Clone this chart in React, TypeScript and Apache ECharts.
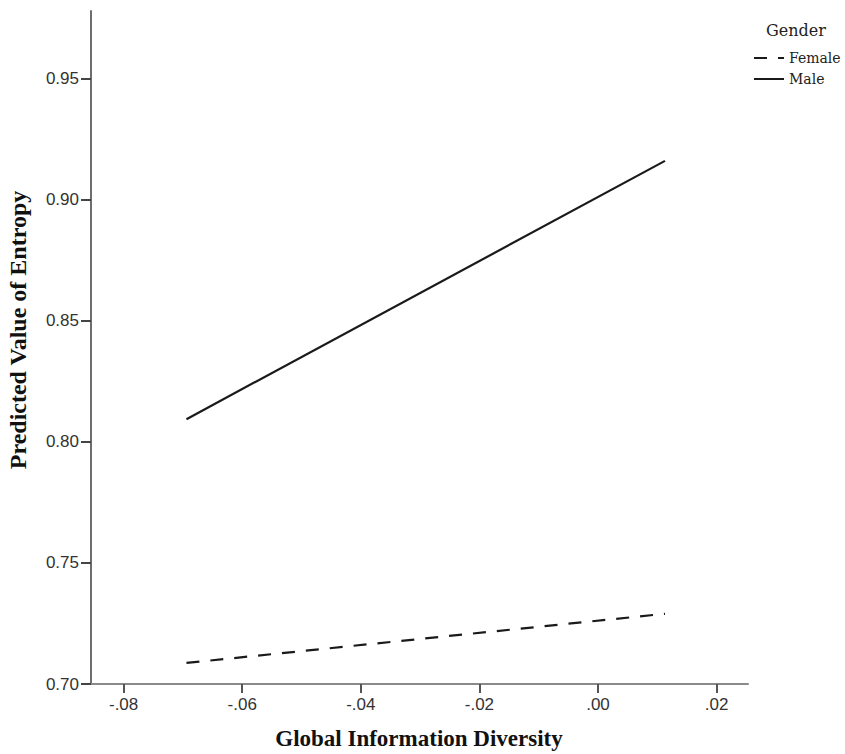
import React, { useEffect, useRef } from "react";
import * as echarts from "echarts";

const xValues = [-0.0694, 0.0113];
const maleValues = [0.8094, 0.9161];
const femaleValues = [0.7087, 0.729];
const xTicks = [-0.08, -0.06, -0.04, -0.02, 0.0, 0.02];
const yTicks = [0.7, 0.75, 0.8, 0.85, 0.9, 0.95];
const seriesNames = ["Female", "Male"];
const legendTitle = "Gender";
const xTitle = "Global Information Diversity";
const yTitle = "Predicted Value of Entropy";

const fmtX = (v: number) => {
  if (Math.abs(v) < 1e-9) return ".00";
  return v.toFixed(2).replace("0.", ".");
};

export default function App() {
  const ref = useRef<HTMLDivElement>(null);
  useEffect(() => {
    if (!ref.current) return;
    const chart = echarts.init(ref.current, undefined, { renderer: "svg" });
    const axisColor = "#6e6e6e";
    chart.setOption({
      animation: false,
      backgroundColor: "#ffffff",
      grid: { left: 91, top: 11, width: 657, height: 673 },
      xAxis: {
        type: "value",
        min: -0.0855,
        max: 0.0253,
        axisLine: { show: true, onZero: false, lineStyle: { color: "#8a8a8a", width: 2 } },
        axisTick: { show: true, length: 9, customValues: xTicks, lineStyle: { color: "#555", width: 2 } },
        axisLabel: {
          customValues: xTicks,
          formatter: (v: number) => fmtX(v),
          color: "#333",
          fontFamily: "Liberation Sans, Arial",
          fontSize: 17,
          margin: 12,
        },
        splitLine: { show: false },
      },
      yAxis: {
        type: "value",
        min: 0.7,
        max: 0.978,
        axisLine: { show: true, onZero: false, lineStyle: { color: axisColor, width: 2 } },
        axisTick: { show: true, length: 10, customValues: yTicks, lineStyle: { color: "#444", width: 2 } },
        axisLabel: {
          customValues: yTicks,
          formatter: (v: number) => v.toFixed(2),
          color: "#333",
          fontFamily: "Liberation Sans, Arial",
          fontSize: 17,
          margin: 12,
        },
        splitLine: { show: false },
      },
      legend: {
        data: seriesNames,
        orient: "vertical",
        left: 753,
        top: 51,
        padding: 0,
        itemWidth: 30,
        itemHeight: 12,
        itemGap: 7,
        itemStyle: { opacity: 0 },
        textStyle: { fontFamily: "DejaVu Serif", fontSize: 14, color: "#222" },
      },
      graphic: [
        {
          type: "text",
          left: 766,
          top: 22,
          style: { text: legendTitle, fontFamily: "DejaVu Serif", fontSize: 16, fill: "#222" },
        },
        {
          type: "text",
          x: 419,
          y: 738,
          style: {
            text: xTitle,
            fontFamily: "Liberation Serif",
            fontWeight: "bold",
            fontSize: 23,
            fill: "#111",
            textAlign: "center",
            textVerticalAlign: "middle",
          },
        },
        {
          type: "text",
          x: 18,
          y: 330,
          rotation: Math.PI / 2,
          style: {
            text: yTitle,
            fontFamily: "Liberation Serif",
            fontWeight: "bold",
            fontSize: 24,
            fill: "#111",
            textAlign: "center",
            textVerticalAlign: "middle",
          },
        },
      ],
      series: [
        {
          name: seriesNames[0],
          type: "line",
          symbol: "none",
          data: xValues.map((x, i) => [x, femaleValues[i]]),
          lineStyle: { color: "#1a1a1a", width: 2.2, type: [13, 11] },
          itemStyle: { color: "#1a1a1a" },
        },
        {
          name: seriesNames[1],
          type: "line",
          symbol: "none",
          data: xValues.map((x, i) => [x, maleValues[i]]),
          lineStyle: { color: "#1a1a1a", width: 2.2, type: "solid" },
          itemStyle: { color: "#1a1a1a" },
        },
      ],
    });
    return () => chart.dispose();
  }, []);
  return (
    <div
      ref={ref}
      style={{ position: "fixed", left: 0, top: 0, width: 845, height: 754, background: "#fff" }}
    />
  );
}
